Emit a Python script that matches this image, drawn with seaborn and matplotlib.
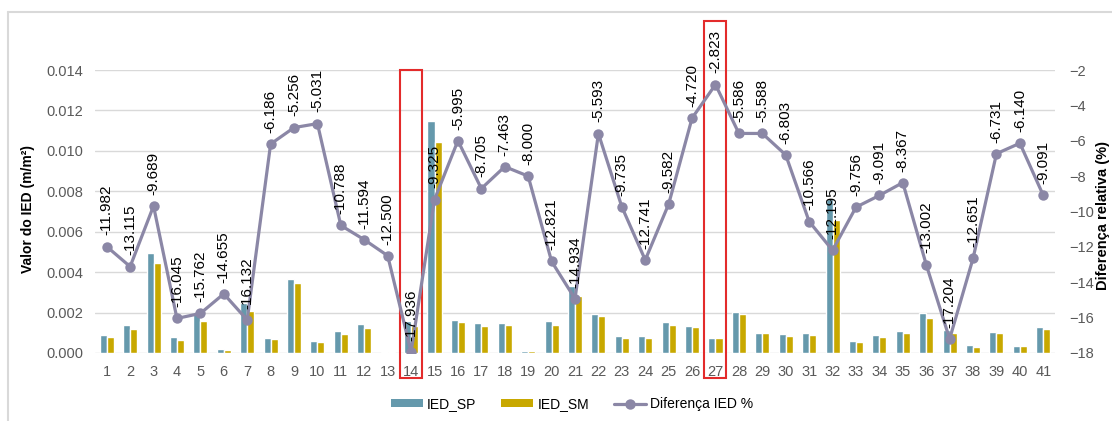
import numpy as np
import pandas as pd
import matplotlib
matplotlib.use("Agg")
import matplotlib.pyplot as plt
from matplotlib.patches import Patch, Rectangle
from matplotlib.lines import Line2D
import seaborn as sns

# Category labels (sections 1..41)
sections = [str(i) for i in range(1, 42)]

# IED values per section (m/m²)
ied_sp = [0.00090, 0.00138, 0.00495, 0.00077, 0.00195, 0.00020, 0.00246, 0.00074, 0.00367, 0.00059,
          0.00108, 0.00144, 0.00005, 0.00160, 0.01150, 0.00164, 0.00148, 0.00148, 0.00010, 0.00160,
          0.00332, 0.00195, 0.00084, 0.00084, 0.00154, 0.00136, 0.00075, 0.00205, 0.00101, 0.00092,
          0.00098, 0.00760, 0.00060, 0.00089, 0.00108, 0.00200, 0.00116, 0.00041, 0.00105, 0.00036,
          0.00130]
ied_sm = [0.00077, 0.00118, 0.00446, 0.00064, 0.00156, 0.00015, 0.00208, 0.00070, 0.00347, 0.00054,
          0.00095, 0.00124, 0.00003, 0.00136, 0.01045, 0.00154, 0.00133, 0.00137, 0.00010, 0.00139,
          0.00283, 0.00183, 0.00072, 0.00072, 0.00139, 0.00128, 0.00075, 0.00195, 0.00098, 0.00084,
          0.00089, 0.00660, 0.00054, 0.00080, 0.00101, 0.00175, 0.00100, 0.00031, 0.00098, 0.00033,
          0.00118]

# Relative difference between the two IED values (%)
diff_pct = [-11.982, -13.115, -9.689, -16.045, -15.762, -14.655, -16.132, -6.186, -5.256, -5.031,
            -10.788, -11.594, -12.500, -17.936, -9.325, -5.995, -8.705, -7.463, -8.000, -12.821,
            -14.934, -5.593, -9.735, -12.741, -9.582, -4.720, -2.823, -5.586, -5.588, -6.803,
            -10.566, -12.195, -9.756, -9.091, -8.367, -13.002, -17.204, -12.651, -6.731, -6.140,
            -9.091]

# Sections framed in red
highlighted = ["14", "27"]

series_names = ["IED_SP", "IED_SM"]
line_name = "Diferença IED %"

TEAL = "#6599ac"
GOLD = "#c8a800"
LINE = "#8b87a6"
TXT = "#595959"
GRID = "#d9d9d9"

sns.set_theme(style="white")
plt.rcParams["font.family"] = ["Liberation Sans", "DejaVu Sans"]

df = pd.DataFrame({
    "secao": sections * 2,
    "valor": ied_sp + ied_sm,
    "serie": [series_names[0]] * len(sections) + [series_names[1]] * len(sections),
})

fig = plt.figure(figsize=(11.12, 4.21), dpi=100)
W, H = 1112, 421
ax = fig.add_axes([95 / W, (H - 353) / H, 960 / W, 283 / H])

sns.barplot(data=df, x="secao", y="valor", hue="serie", order=sections,
            hue_order=series_names, palette=[TEAL, GOLD], width=0.6, gap=0,
            errorbar=None, saturation=1, ax=ax, legend=False, zorder=2)

ax.set_ylim(0, 0.014)
ax.set_yticks(np.arange(0, 0.0141, 0.002))
ax.yaxis.set_major_formatter(matplotlib.ticker.FormatStrFormatter("%.3f"))
ax.set_xlim(-0.5, len(sections) - 0.5)
ax.grid(axis="y", color=GRID, linewidth=1, zorder=0)
ax.set_axisbelow(True)
for s in ax.spines.values():
    s.set_visible(False)
ax.tick_params(axis="both", length=0, labelsize=10.5, labelcolor=TXT)
ax.tick_params(axis="x", pad=9)
ax.tick_params(axis="y", pad=8.5)
ax.set_xlabel("")
ax.set_ylabel("")

ax2 = ax.twinx()
sns.lineplot(x=np.arange(len(sections)), y=diff_pct, ax=ax2, color=LINE, linewidth=2.3,
             marker="o", markersize=7.5, markeredgewidth=0, zorder=3)
ax2.set_ylim(-18, -2)
ax2.set_yticks(np.arange(-18, -1, 2))
for s in ax2.spines.values():
    s.set_visible(False)
ax2.tick_params(axis="y", length=0, labelsize=10.5, labelcolor=TXT, pad=10)
ax2.set_ylabel("")
ax2.grid(False)

for i, v in enumerate(diff_pct):
    ax2.annotate(f"{v:.3f}", (i, v), xytext=(0, 8), textcoords="offset points",
                 rotation=90, ha="center", va="bottom", fontsize=11, color="black",
                 annotation_clip=False, zorder=4)

# red frames around selected sections
tops = {"14": 1.0, "27": 1.173}
for lab in highlighted:
    xi = sections.index(lab)
    y0 = -0.088
    rect = Rectangle((xi - 0.47, y0), 0.94, tops[lab] - y0,
                     transform=ax.get_xaxis_transform(), fill=False,
                     edgecolor="#e32b2b", linewidth=1.5, clip_on=False, zorder=5)
    ax.add_patch(rect)

fig.text(28 / W, 1 - 209 / H, "Valor do IED (m/m²)", rotation=90, ha="center", va="center",
         fontsize=10, fontweight="bold", color="black")
fig.text(1103 / W, 1 - 215 / H, "Diferença relativa (%)", rotation=90, ha="center", va="center",
         fontsize=10.5, fontweight="bold", color="black")

handles = [Patch(facecolor=TEAL, edgecolor="none"),
           Patch(facecolor=GOLD, edgecolor="none"),
           Line2D([0], [0], color=LINE, linewidth=2.3, marker="o", markersize=7.5,
                  markeredgewidth=0)]
fig.legend(handles, series_names + [line_name], loc="center", bbox_to_anchor=(572 / W, 1 - 404 / H),
           ncol=3, frameon=False, fontsize=10, handlelength=2.3, handleheight=0.5,
           handletextpad=0.3, columnspacing=1.8, labelcolor="black")

# light frame around the chart
fig.add_artist(Line2D([8 / W, 8 / W], [0, 1 - 12 / H], color=GRID, linewidth=1.5))
fig.add_artist(Line2D([8 / W, 1], [1 - 12 / H, 1 - 12 / H], color=GRID, linewidth=1.5))

fig.savefig("out.png", dpi=100)
